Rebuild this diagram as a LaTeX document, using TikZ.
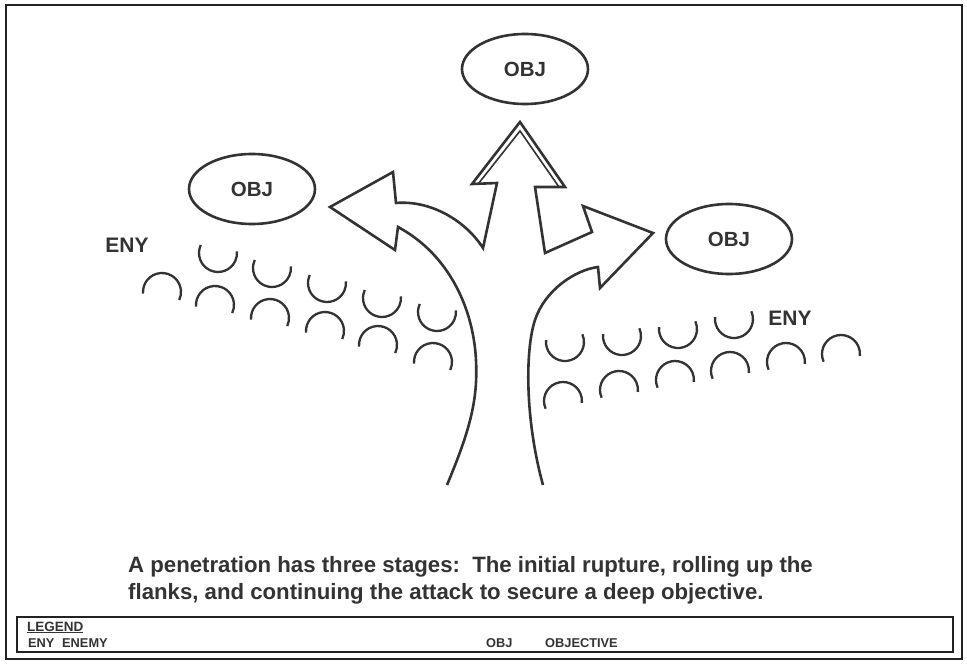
\documentclass[tikz,border=0pt]{standalone}
\usepackage{fontspec}
\setmainfont{Liberation Sans}
\usetikzlibrary{shapes.geometric}
\definecolor{ink}{HTML}{333333}
\definecolor{frameink}{HTML}{222222}
\begin{document}
\begin{tikzpicture}[x=1pt,y=-1pt,
  objective/.style={ellipse,draw=ink,line width=2.6pt,minimum width=126pt,minimum height=70pt,inner sep=0pt,
    text=ink,font=\bfseries\fontsize{20.5}{24}\selectfont},
  label/.style={text=ink,font=\bfseries\fontsize{21}{24}\selectfont,inner sep=0pt},
  arrowline/.style={draw=ink,line width=2.6pt,line join=miter},
  symline/.style={draw=ink,line width=2.3pt},
  legendtext/.style={text=ink,font=\bfseries\fontsize{12.8}{14}\selectfont,inner sep=0pt,anchor=west}]
\useasboundingbox (0,0) rectangle (967,664);
% outer frame
\draw[frameink,line width=2.4pt] (6,5) rectangle (962,659);

% objectives
\node[objective] (objtop) at (525,69) {OBJ};
\node[objective] (objleft) at (252,189) {OBJ};
\node[objective] (objright) at (729,239) {OBJ};

% enemy labels
\node[label] (enyleft) at (127,245) {ENY};
\node[label] (enyright) at (790,318) {ENY};

% penetration arrow: trunk splitting into three heads
\draw[arrowline] (447,485) .. controls (470,430) and (478,400) .. (476,360)
  .. controls (473.5,310) and (450,255) .. (398,227)
  -- (395,250) -- (330,207) -- (393,172) -- (396,203)
  .. controls (430,200) and (465,220) .. (483,248)
  -- (497,183) -- (472,184) -- (520,122) -- (565,187) -- (535,187)
  -- (545,253) -- (592,232) -- (583,206) -- (653,233) -- (600,288) -- (598,267)
  .. controls (575,270) and (545,290) .. (535,320)
  .. controls (525,350) and (525,420) .. (543,485);
% inner line of the doubled centre head
\draw[draw=ink,line width=1.6pt,line join=miter] (478.5,183.5) -- (520,131) -- (559,187);

% enemy positions, left flank
\foreach \px/\py in {218/253,272/268,327/283,382/298,437/312}
  \draw[symline] (\px,\py) ++(205:19) arc (205:-5:19);
\foreach \px/\py in {162/292,215/305,270/318,325/331,378/345,433/362}
  \draw[symline] (\px,\py) ++(175:19) arc (175:385:19);

% enemy positions, right flank
\foreach \px/\py in {565/342,622/336,678/329,734/319}
  \draw[symline] (\px,\py) ++(186:19) arc (186:-24:19);
\foreach \px/\py in {563/401,619/390,675/380,730/371,786/362,841/354}
  \draw[symline] (\px,\py) ++(156:19) arc (156:366:19);

% caption
\node[anchor=west,align=left,text=ink,inner sep=0pt,font=\bfseries\fontsize{22.2}{27}\selectfont] (caption) at (128,580)
  {A penetration has three stages:\ \ The initial rupture, rolling up the\\flanks, and continuing the attack to secure a deep objective.};

% legend
\draw[frameink,line width=2.8pt] (17,617) rectangle (953,652);
\node[anchor=west,text=ink,inner sep=0pt,font=\bfseries\fontsize{13.5}{15}\selectfont] (legendtitle) at (27,627.5) {\underline{LEGEND}};
\node[legendtext] (legeny) at (28,643) {ENY};
\node[legendtext] (legenemy) at (62,643) {ENEMY};
\node[legendtext] (legobj) at (486,643) {OBJ};
\node[legendtext] (legobjective) at (545,643) {OBJECTIVE};
\end{tikzpicture}
\end{document}
